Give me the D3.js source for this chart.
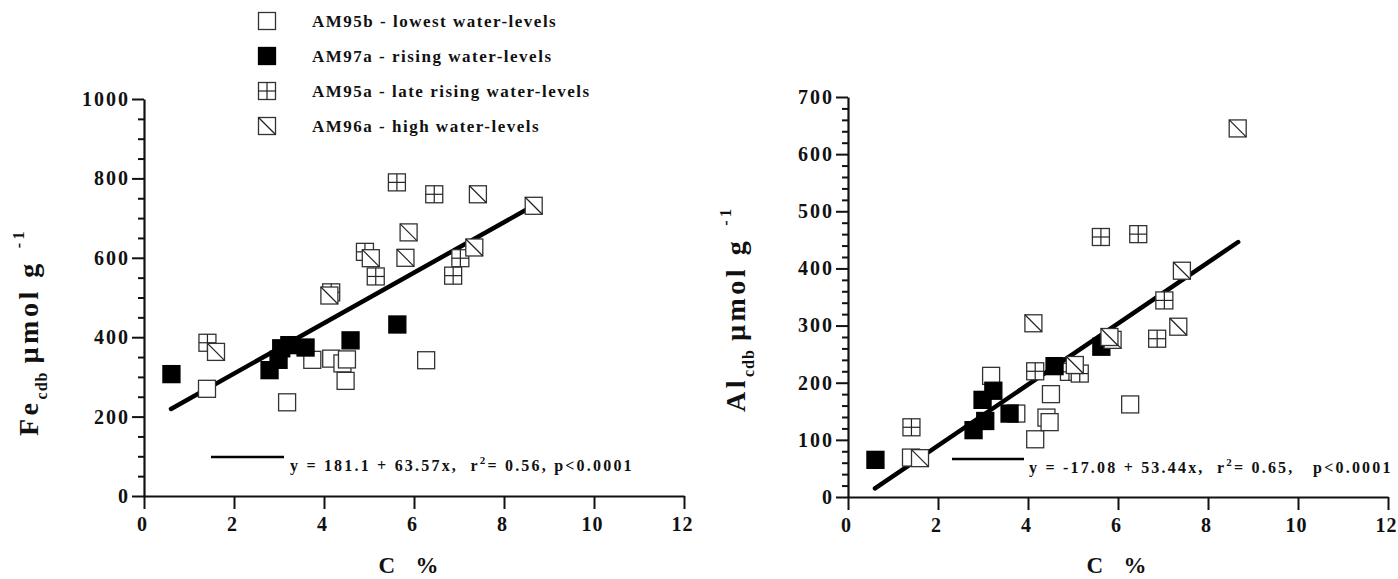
<!DOCTYPE html>
<html>
<head>
<meta charset="utf-8">
<script src="https://cdn.jsdelivr.net/npm/d3@7"></script>
<style>
  html, body { margin: 0; padding: 0; background: #fff; }
  svg { display: block; }
  text { font-family: "Liberation Serif", "Times New Roman", serif; font-weight: bold; fill: #111; white-space: pre; }
</style>
</head>
<body>
<svg id="chart" width="1398" height="579"></svg>
<script>
// Series: carbon content (C %) with CDB-extractable Fe and Al (µmol g-1)
const seriesNames = ["AM95b - lowest water-levels", "AM97a - rising water-levels",
                     "AM95a - late rising water-levels", "AM96a - high water-levels"];
const seriesKeys = ["open", "filled", "cross", "diag"];

const cOpen   = [1.40, 3.18, 3.74, 4.16, 4.41, 4.51, 4.48, 6.27];
const feOpen  = [270, 236, 343, 346, 334, 344, 290, 342];
const alOpen  = [69, 212, 146, 101, 139, 180, 131, 162];

const cFilled  = [0.61, 2.79, 2.99, 3.05, 3.23, 3.59, 4.59, 5.63];
const feFilled = [307, 317, 343, 372, 380, 374, 392, 432];
const alFilled = [65, 117, 170, 133, 186, 146, 229, 263];

const cCross  = [5.62, 6.45, 4.91, 5.15, 7.03, 6.87, 4.16, 1.41];
const feCross = [790, 760, 615, 553, 599, 555, 513, 386];
const alCross = [455, 460, 219, 216, 344, 277, 220, 122];

const cDiag  = [7.42, 8.66, 5.88, 5.04, 5.81, 7.34, 4.12, 1.60];
const feDiag = [760, 731, 664, 599, 600, 626, 505, 363];
const alDiag = [396, 645, 275, 231, 280, 298, 304, 68];

// Regression fits: intercept, slope, C range
const feFit = { a: 181.1, b: 63.57, x0: 0.6, x1: 8.65 };
const alFit = { a: -17.08, b: 53.44, x0: 0.6, x1: 8.67 };

const xTicks = [0, 2, 4, 6, 8, 10, 12];
const feTicks = [0, 200, 400, 600, 800, 1000];
const alTicks = [0, 100, 200, 300, 400, 500, 600, 700];

const svg = d3.select("#chart");
const MS = 17; // marker size

function zip(c, v) { return c.map((x, i) => ({ x, y: v[i] })); }

function drawMarker(g, kind, cx, cy) {
  const h = MS / 2;
  const m = g.append("g").attr("transform", `translate(${cx},${cy})`);
  m.append("rect").attr("x", -h).attr("y", -h).attr("width", MS).attr("height", MS)
    .attr("fill", kind === "filled" ? "#000" : "#fff")
    .attr("stroke", kind === "filled" ? "#000" : "#333").attr("stroke-width", 1.3);
  if (kind === "cross") {
    m.append("line").attr("x1", 0).attr("x2", 0).attr("y1", -h).attr("y2", h)
      .attr("stroke", "#222").attr("stroke-width", 1.2);
    m.append("line").attr("x1", -h).attr("x2", h).attr("y1", 0).attr("y2", 0)
      .attr("stroke", "#222").attr("stroke-width", 1.2);
  } else if (kind === "diag") {
    m.append("line").attr("x1", -h).attr("y1", -h).attr("x2", h).attr("y2", h)
      .attr("stroke", "#222").attr("stroke-width", 1.2);
  }
}

function styleLabels(a, spacing) {
  a.selectAll("text").attr("font-size", 20).attr("letter-spacing", spacing)
    .attr("font-family", "Liberation Serif, serif").attr("font-weight", "bold").attr("fill", "#111");
}

function panel(opts) {
  const { x, y, yTicks, yMinorStep, data, fit, eq, eqLine, titleMain, titleX, titleY } = opts;
  const g = svg.append("g");

  // minor y ticks
  const minor = d3.range(y.domain()[0], y.domain()[1] + 0.001, yMinorStep)
    .filter(v => !yTicks.includes(v));
  g.append("g").attr("transform", `translate(${x.range()[0]},0)`)
    .call(d3.axisLeft(y).tickValues(minor).tickSize(6).tickSizeOuter(0).tickFormat(""))
    .call(a => a.select(".domain").remove())
    .call(a => a.selectAll("line").attr("stroke", "#111").attr("stroke-width", 2));

  // major y ticks with labels
  g.append("g").attr("transform", `translate(${x.range()[0]},0)`)
    .call(d3.axisLeft(y).tickValues(yTicks).tickSize(12).tickSizeOuter(0).tickPadding(4).tickFormat(d3.format("d")))
    .call(a => a.select(".domain").attr("stroke", "#111").attr("stroke-width", 2.2))
    .call(a => a.selectAll("line").attr("stroke", "#111").attr("stroke-width", 2))
    .call(a => styleLabels(a, 2))
    .call(a => a.selectAll("text").attr("dx", 2));

  // x axis
  g.append("g").attr("transform", `translate(0,${y.range()[0]})`)
    .call(d3.axisBottom(x).tickValues(xTicks).tickSize(13).tickSizeOuter(0).tickPadding(8).tickFormat(d3.format("d")))
    .call(a => a.select(".domain").attr("stroke", "#111").attr("stroke-width", 2.2))
    .call(a => a.selectAll("line").attr("stroke", "#111").attr("stroke-width", 2))
    .call(a => styleLabels(a, 1))
    .call(a => a.selectAll("text").attr("dx", -2));

  // regression line
  g.append("line")
    .attr("x1", x(fit.x0)).attr("y1", y(fit.a + fit.b * fit.x0))
    .attr("x2", x(fit.x1)).attr("y2", y(fit.a + fit.b * fit.x1))
    .attr("stroke", "#000").attr("stroke-width", 4.5).attr("stroke-linecap", "round");

  // points
  data.forEach(s => s.points.forEach(p => drawMarker(g, s.kind, x(p.x), y(p.y))));

  // equation legend
  g.append("line").attr("x1", eqLine[0]).attr("x2", eqLine[1]).attr("y1", eqLine[2]).attr("y2", eqLine[2])
    .attr("stroke", "#000").attr("stroke-width", 2.5);
  const t = g.append("text").attr("x", eq.x).attr("y", eq.y).attr("font-size", 16).attr("letter-spacing", 2.2);
  eq.parts.forEach(p => {
    const ts = t.append("tspan").text(p.t);
    if (p.sup) ts.attr("dy", -7).attr("font-size", 11);
    if (p.after) ts.attr("dy", 7);
  });

  // x title
  g.append("text").attr("x", titleX.x).attr("y", titleX.y).attr("text-anchor", "middle")
    .attr("font-size", 23).attr("letter-spacing", 3).text("C  %");

  // y title
  const yt = g.append("text").attr("transform", `translate(${titleY.x},${titleY.y}) rotate(-90)`)
    .attr("font-size", 28).attr("letter-spacing", 3.5);
  yt.append("tspan").text(titleMain);
  yt.append("tspan").attr("dy", 9).attr("font-size", 16).attr("letter-spacing", 1).text("cdb");
  yt.append("tspan").attr("dy", -9).attr("dx", 8).text("µmol g");
  yt.append("tspan").attr("dy", -14).attr("dx", 12).attr("font-size", 16).text("-1");
}

// Left panel: Fe
const xL = d3.scaleLinear().domain([0, 12]).range([144, 684]);
const yL = d3.scaleLinear().domain([0, 1000]).range([496, 99]);
panel({
  x: xL, y: yL, yTicks: feTicks, yMinorStep: 50, fit: feFit,
  data: [
    { kind: "open", points: zip(cOpen, feOpen) },
    { kind: "cross", points: zip(cCross, feCross) },
    { kind: "diag", points: zip(cDiag, feDiag) },
    { kind: "filled", points: zip(cFilled, feFilled) }
  ],
  eqLine: [211, 284, 457],
  eq: { x: 290, y: 471, parts: [{ t: "y = 181.1 + 63.57x,  r" }, { t: "2", sup: true }, { t: "= 0.56, p<0.0001", after: true }] },
  titleMain: "Fe", titleX: { x: 410, y: 573 }, titleY: { x: 38, y: 436 }
});

// Right panel: Al
const xR = d3.scaleLinear().domain([0, 12]).range([848, 1388]);
const yR = d3.scaleLinear().domain([0, 700]).range([497, 97]);
panel({
  x: xR, y: yR, yTicks: alTicks, yMinorStep: 20, fit: alFit,
  data: [
    { kind: "open", points: zip(cOpen, alOpen) },
    { kind: "cross", points: zip(cCross, alCross) },
    { kind: "filled", points: zip(cFilled, alFilled) },
    { kind: "diag", points: zip(cDiag, alDiag) }
  ],
  eqLine: [952, 1024, 459],
  eq: { x: 1029, y: 473, parts: [{ t: "y = -17.08 + 53.44x,  r" }, { t: "2", sup: true }, { t: "= 0.65,   p<0.0001", after: true }] },
  titleMain: "Al", titleX: { x: 1118, y: 573 }, titleY: { x: 745, y: 412 }
});

// Series legend
const legend = svg.append("g");
seriesKeys.forEach((k, i) => {
  const cy = 21 + i * 35;
  drawMarker(legend, k, 267, cy);
  legend.append("text").attr("x", 312).attr("y", cy + 6).attr("font-size", 17).attr("letter-spacing", 1.5)
    .text(seriesNames[i]);
});
</script>
</body>
</html>
